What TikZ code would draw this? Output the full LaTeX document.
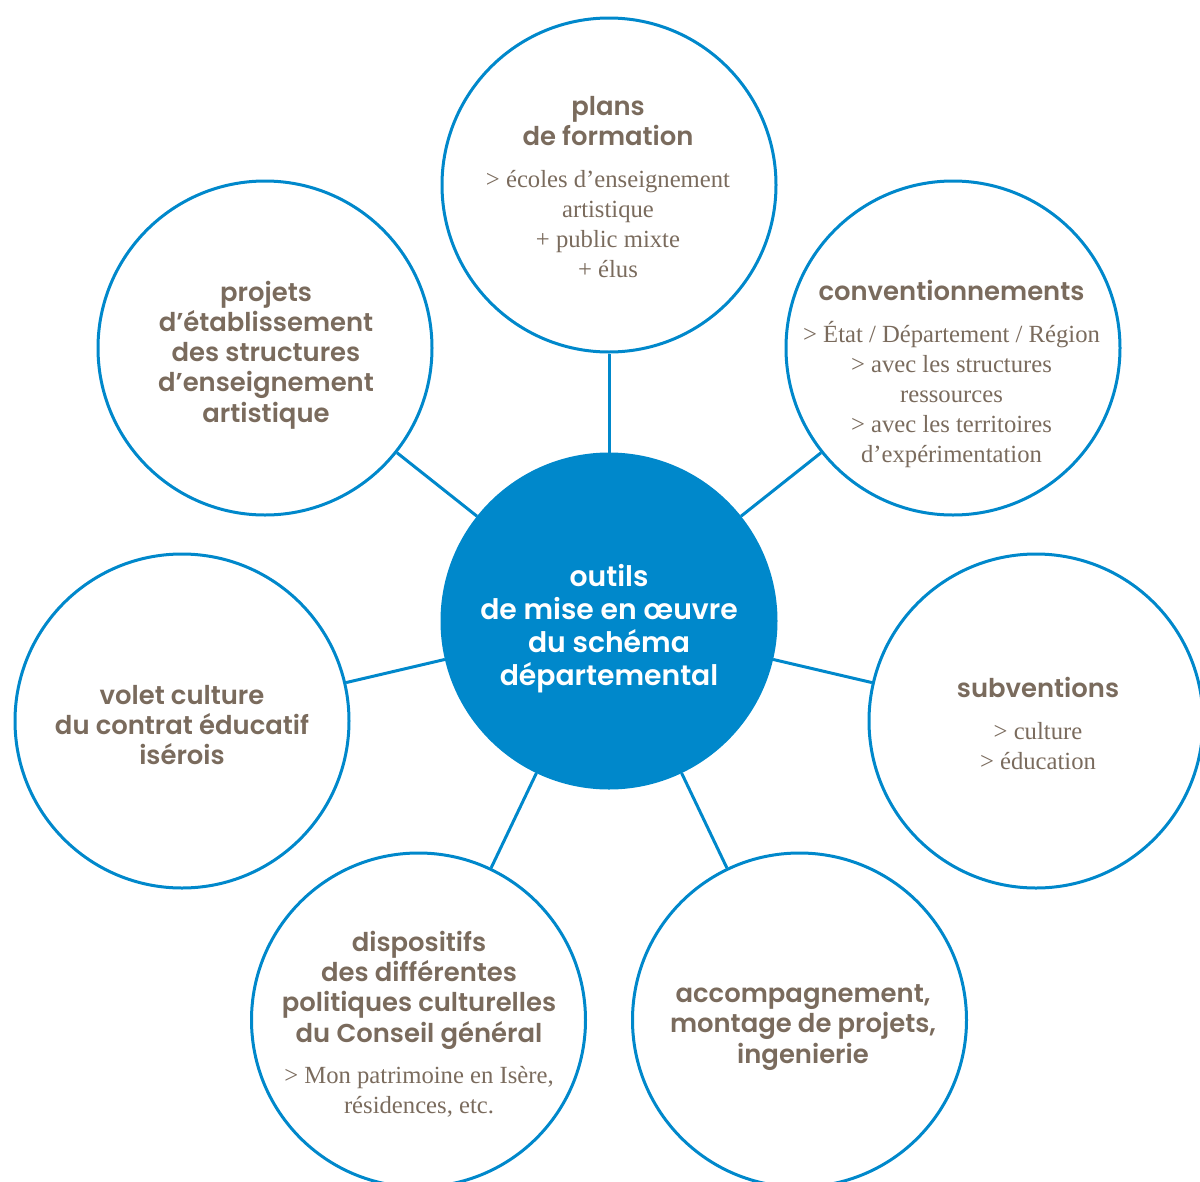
\documentclass[tikz,border=0pt]{standalone}
\usepackage{fontspec}
\usepackage{tikz}
\newfontfamily\headfont{Poppins SemiBold}
\newfontfamily\bodyfont{Liberation Serif}
\definecolor{isereblue}{HTML}{0088CB}
\definecolor{taupe}{HTML}{7A6B5D}

\begin{document}
\begin{tikzpicture}[x=0.75pt,y=-0.75pt,
	ring/.style={circle,draw=isereblue,line width=2.25pt,minimum size=250.5pt,inner sep=0pt},
	hub/.style={ring,fill=isereblue},
	link/.style={draw=isereblue,line width=2.25pt},
	head/.style={align=center,inner sep=0pt,text=taupe,font=\headfont\fontsize{19.4}{22.7}\selectfont},
	body/.style={align=center,inner sep=0pt,text=taupe,font=\bodyfont\fontsize{18.5}{22.5}\selectfont},
	hubtext/.style={head,text=white,font=\headfont\fontsize{21.2}{24.75}\selectfont}]
	
	\useasboundingbox (0,0) rectangle (1200,1182);
	
	% Draw nodes
	\node[hub] (OUT) at (609,621) {};
	\node[ring] (PDF) at (609,185) {};
	\node[ring] (CONV) at (953,348) {};
	\node[ring] (SUB) at (1036,721) {};
	\node[ring] (ACC) at (799.5,1020) {};
	\node[ring] (DISP) at (418.5,1020) {};
	\node[ring] (VOL) at (182,721) {};
	\node[ring] (PROJ) at (265,348) {};
	
	% Draw arcs, from the hub to each tool
	\draw[link] (OUT) -- (PDF);
	\draw[link] (OUT) -- (CONV);
	\draw[link] (OUT) -- (SUB);
	\draw[link] (OUT) -- (ACC);
	\draw[link] (OUT) -- (DISP);
	\draw[link] (OUT) -- (VOL);
	\draw[link] (OUT) -- (PROJ);
	
	% Write texts
	\node[hubtext] (OUTt) at (609,629) {outils\\de mise en œuvre\\du schéma\\départemental};
	\node[head] (PDFh) at (608,121) {plans\\de formation};
	\node[body] (PDFb) at (608,224) {> écoles d’enseignement\\artistique\\+ public mixte\\+ élus};
	\node[head] (CONVh) at (951.5,290) {conventionnements};
	\node[body] (CONVb) at (951.5,394.5) {> État / Département / Région\\> avec les structures\\ressources\\> avec les territoires\\d’expérimentation};
	\node[head] (SUBh) at (1038,687) {subventions};
	\node[body] (SUBb) at (1038,746) {> culture\\> éducation};
	\node[head] (ACCh) at (803,1027.5) {accompagnement,\\montage de projets,\\ingenierie};
	\node[head] (DISPh) at (419,990) {dispositifs\\des différentes\\politiques culturelles\\du Conseil général};
	\node[body] (DISPb) at (419,1092) {> Mon patrimoine en Isère,\\résidences, etc.};
	\node[head] (VOLh) at (182,725) {volet culture\\du contrat éducatif\\isérois};
	\node[head] (PROJh) at (266,355) {projets\\d’établissement\\des structures\\d’enseignement\\artistique};
	
\end{tikzpicture}
\end{document}
